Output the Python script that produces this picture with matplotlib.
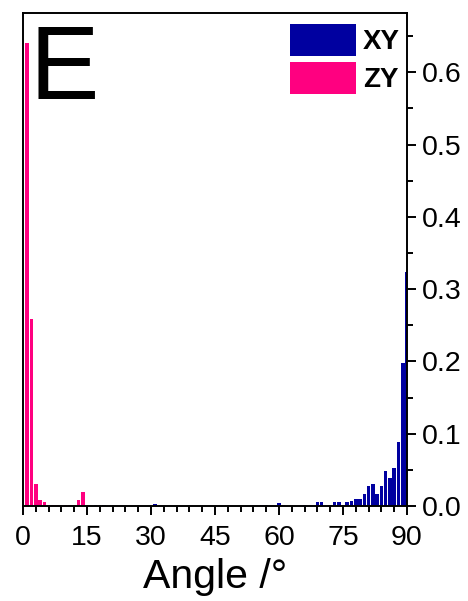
"""Angle distribution of XY and ZY orientations (panel E)."""
import matplotlib.pyplot as plt
from matplotlib.ticker import MultipleLocator

# angle bins (deg) and relative frequency
zy_angle = [1, 2, 3, 4, 5, 6, 7, 8, 9, 10, 11, 12, 13, 14]
zy_freq = [0.640, 0.258, 0.030, 0.008, 0.005, 0.002, 0.002, 0.002, 0.0,
           0.002, 0.002, 0.002, 0.008, 0.019]

xy_angle = [17, 19, 31, 56, 57, 60, 61, 66, 69, 70, 72, 73, 74, 75, 76, 77,
            78, 79, 80, 81, 82, 83, 84, 85, 86, 87, 88, 89, 90]
xy_freq = [0.002, 0.002, 0.003, 0.002, 0.002, 0.004, 0.002, 0.002, 0.005,
           0.005, 0.002, 0.006, 0.006, 0.001, 0.005, 0.007, 0.010, 0.010,
           0.016, 0.028, 0.030, 0.016, 0.028, 0.048, 0.039, 0.052, 0.088,
           0.198, 0.324]

xticks = [0, 15, 30, 45, 60, 75, 90]
yticks = [0.0, 0.1, 0.2, 0.3, 0.4, 0.5, 0.6]

plt.rcParams['font.family'] = ['Liberation Sans', 'DejaVu Sans']

fig = plt.figure(figsize=(4.68, 6.01), dpi=100)
ax = fig.add_axes([23 / 468, 1 - 506 / 601, 384 / 468, 493 / 601])

ax.bar(xy_angle, xy_freq, width=0.85, color='#0000A0', label='XY', linewidth=0)
ax.bar(zy_angle, zy_freq, width=0.85, color='#FF0080', label='ZY', linewidth=0)

ax.set_xlim(0, 90)
ax.set_ylim(0, 0.682)
ax.set_xticks(xticks)
ax.set_yticks(yticks)
ax.set_yticklabels(['%.1f' % v for v in yticks])
ax.xaxis.set_minor_locator(MultipleLocator(3))
ax.yaxis.set_minor_locator(MultipleLocator(0.05))
ax.yaxis.tick_right()

for sp in ax.spines.values():
    sp.set_linewidth(1.4)
ax.tick_params(which='both', direction='out', width=1.4, labelsize=20.5)
ax.tick_params(which='major', length=6.5)
ax.tick_params(which='minor', length=4.3)
ax.tick_params(axis='x', which='major', pad=7)
ax.tick_params(axis='y', which='major', pad=4)
ax.tick_params(axis='y', left=False, right=True)

ax.set_xlabel('Angle /°', fontsize=29.5, labelpad=5)

ax.text(0.018, 0.977, 'E', transform=ax.transAxes, fontsize=75,
        ha='left', va='top')

leg = ax.legend(loc='upper right', bbox_to_anchor=(0.982, 0.978),
                frameon=False, borderpad=0, borderaxespad=0,
                handlelength=2.37, handleheight=1.42, labelspacing=0.2,
                handletextpad=0.26, prop={'size': 20, 'weight': 'bold'})

fig.savefig('out.png', dpi=100)
